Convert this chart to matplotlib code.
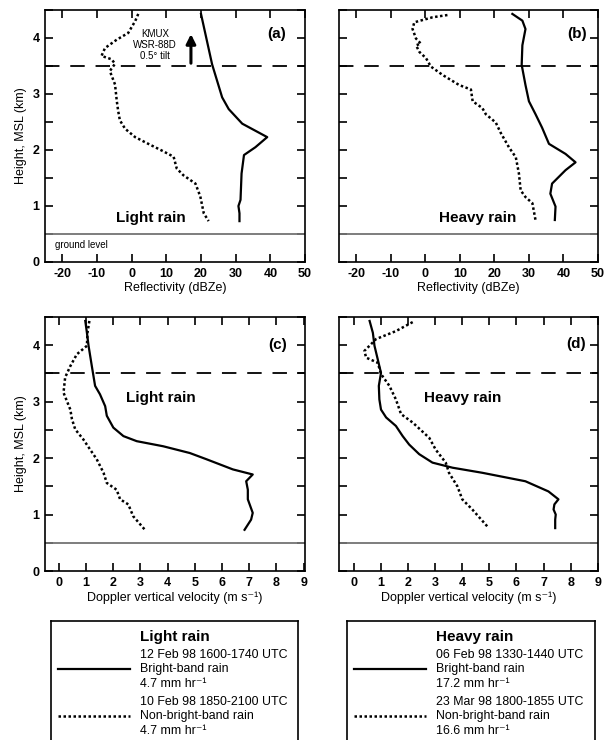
import matplotlib
matplotlib.use('Agg')
import matplotlib.pyplot as plt
from matplotlib.ticker import MultipleLocator, FixedLocator

plt.rcParams['font.family'] = ['Liberation Sans', 'DejaVu Sans']
plt.rcParams['axes.unicode_minus'] = False

# (a) reflectivity, light rain
h_a_bb = [4.43, 3.53, 2.94, 2.73, 2.47, 2.23, 2.05, 1.91, 1.58, 1.11, 1.00, 0.87, 0.73]
z_a_bb = [20.0, 23.2, 26.1, 28.0, 31.9, 39.1, 35.7, 32.4, 31.7, 31.4, 30.8, 31.1, 31.1]
h_a_nbb = [4.43, 4.30, 4.09, 3.97, 3.82, 3.68, 3.62, 3.54, 3.41, 3.17, 2.88, 2.70, 2.53,
           2.38, 2.23, 2.11, 1.99, 1.88, 1.67, 1.55, 1.40, 1.17, 0.87, 0.73]
z_a_nbb = [1.9, 1.0, -1.0, -4.3, -7.7, -8.7, -5.8, -4.8, -6.3, -4.8, -4.3, -3.9, -3.4,
           -1.9, 1.0, 4.8, 8.7, 12.1, 13.0, 14.9, 18.4, 19.8, 20.8, 22.2]

# (b) reflectivity, heavy rain
h_b_bb = [4.43, 4.31, 4.16, 3.87, 3.52, 3.16, 2.87, 2.64, 2.40, 2.11, 1.93, 1.78, 1.64,
          1.40, 1.22, 0.99, 0.75]
z_b_bb = [25.2, 28.1, 29.0, 28.1, 27.9, 29.0, 30.0, 31.9, 33.8, 35.8, 40.6, 43.5, 40.6,
          36.7, 36.2, 37.7, 37.5]
h_b_nbb = [4.41, 4.37, 4.28, 4.16, 3.99, 3.90, 3.87, 3.75, 3.64, 3.49, 3.34, 3.16, 3.08,
           2.87, 2.75, 2.64, 2.49, 2.31, 2.05, 1.87, 1.58, 1.28, 1.16, 1.05, 0.75]
z_b_nbb = [6.4, 2.1, -3.2, -3.7, -2.7, -1.3, -2.7, -1.7, 0.2, 1.6, 5.0, 9.8, 13.2,
           13.7, 16.5, 17.5, 20.4, 21.8, 24.2, 26.2, 27.1, 27.6, 29.0, 31.0, 31.9]

# (c) Doppler velocity, light rain
h_c_bb = [4.43, 4.22, 3.99, 3.63, 3.28, 3.13, 2.92, 2.75, 2.54, 2.39, 2.30, 2.21, 2.09,
          1.98, 1.80, 1.71, 1.59, 1.44, 1.27, 1.03, 0.91, 0.73]
w_c_bb = [0.98, 1.04, 1.10, 1.22, 1.34, 1.52, 1.71, 1.77, 2.01, 2.38, 2.87, 3.84, 4.82,
          5.43, 6.40, 7.13, 6.89, 6.95, 6.95, 7.13, 7.07, 6.83]
h_c_nbb = [4.43, 4.22, 3.99, 3.84, 3.63, 3.43, 3.16, 2.86, 2.69, 2.51, 2.33, 2.15, 1.98,
           1.74, 1.56, 1.44, 1.27, 1.18, 0.97, 0.73]
w_c_nbb = [1.13, 1.06, 1.04, 0.67, 0.43, 0.24, 0.18, 0.43, 0.49, 0.61, 0.91, 1.16, 1.40,
           1.65, 1.77, 2.13, 2.26, 2.56, 2.74, 3.17]

# (d) Doppler velocity, heavy rain
h_d_bb = [4.43, 4.22, 3.99, 3.75, 3.51, 3.28, 3.04, 2.86, 2.72, 2.57, 2.39, 2.24, 2.07,
          1.92, 1.83, 1.74, 1.59, 1.41, 1.27, 1.18, 1.09, 1.00, 0.91, 0.76]
w_d_bb = [0.58, 0.70, 0.76, 0.88, 1.00, 0.92, 0.94, 1.00, 1.19, 1.55, 1.80, 2.04, 2.41,
          2.90, 3.64, 4.74, 6.33, 7.18, 7.55, 7.40, 7.37, 7.45, 7.43, 7.43]
h_d_nbb = [4.41, 4.25, 4.11, 3.90, 3.78, 3.69, 3.49, 3.28, 3.04, 2.78, 2.63, 2.36, 2.15,
           1.92, 1.74, 1.50, 1.27, 1.09, 0.76]
w_d_nbb = [2.17, 1.55, 0.82, 0.39, 0.45, 0.88, 1.00, 1.31, 1.55, 1.74, 2.17, 2.78, 3.02,
           3.39, 3.51, 3.82, 4.00, 4.37, 4.98]

refl_ticks = [-20, -10, 0, 10, 20, 30, 40, 50]
vel_ticks = [0, 1, 2, 3, 4, 5, 6, 7, 8, 9]

legend_light = [['12 Feb 98 1600-1740 UTC', 'Bright-band rain', '4.7 mm hr⁻¹'],
                ['10 Feb 98 1850-2100 UTC', 'Non-bright-band rain', '4.7 mm hr⁻¹']]
legend_heavy = [['06 Feb 98 1330-1440 UTC', 'Bright-band rain', '17.2 mm hr⁻¹'],
                ['23 Mar 98 1800-1855 UTC', 'Non-bright-band rain', '16.6 mm hr⁻¹']]

solid_kw = dict(color='k', lw=1.6, solid_joinstyle='round')
dot_kw = dict(color='k', lw=1.8, linestyle=(0, (1, 1)))

fig = plt.figure(figsize=(6.04, 7.4), dpi=100)

W, H = 604.0, 740.0


def make_ax(x0, x1, y0, y1):
    return fig.add_axes([x0 / W, 1 - y1 / H, (x1 - x0) / W, (y1 - y0) / H])


ax_a = make_ax(45, 305, 10, 262)
ax_b = make_ax(339, 598, 10, 262)
ax_c = make_ax(45, 305, 317, 571)
ax_d = make_ax(339, 598, 317, 571)


def style_ax(ax, xlim, xticks, xlabel, ylabels):
    ax.set_xlim(*xlim)
    ax.set_ylim(0, 4.5)
    ax.xaxis.set_major_locator(FixedLocator(xticks))
    ax.yaxis.set_major_locator(MultipleLocator(1))
    ax.yaxis.set_minor_locator(MultipleLocator(0.5))
    ax.tick_params(which='both', direction='in', top=True, right=True,
                   length=6, width=1.2, labelsize=9, pad=4)
    for lab in ax.get_xticklabels() + ax.get_yticklabels():
        lab.set_fontweight('bold')
    ax.set_xlabel(xlabel, fontsize=9, labelpad=2)
    if ylabels:
        ax.set_ylabel('Height, MSL (km)', fontsize=9, labelpad=4)
    else:
        ax.set_yticklabels([])
    for s in ax.spines.values():
        s.set_linewidth(1.2)
    ax.axhline(0.5, color='0.45', lw=1.3)
    ax.axhline(3.5, color='k', lw=1.3, linestyle=(0, (8, 6)))


style_ax(ax_a, (-25, 50), refl_ticks, 'Reflectivity (dBZe)', True)
style_ax(ax_b, (-25, 50), refl_ticks, 'Reflectivity (dBZe)', False)
style_ax(ax_c, (-0.5, 9.05), vel_ticks, 'Doppler vertical velocity (m s⁻¹)', True)
style_ax(ax_d, (-0.55, 9.01), vel_ticks, 'Doppler vertical velocity (m s⁻¹)', False)

ax_a.plot(z_a_bb, h_a_bb, **solid_kw)
ax_a.plot(z_a_nbb, h_a_nbb, **dot_kw)
ax_b.plot(z_b_bb, h_b_bb, **solid_kw)
ax_b.plot(z_b_nbb, h_b_nbb, **dot_kw)
ax_c.plot(w_c_bb, h_c_bb, **solid_kw)
ax_c.plot(w_c_nbb, h_c_nbb, **dot_kw)
ax_d.plot(w_d_bb, h_d_bb, **solid_kw)
ax_d.plot(w_d_nbb, h_d_nbb, **dot_kw)

# annotations
ax_a.text(41.9, 4.07, '(a)', fontsize=11, fontweight='bold', ha='center', va='center')
ax_b.text(43.8, 4.07, '(b)', fontsize=11, fontweight='bold', ha='center', va='center')
ax_c.text(8.03, 4.01, '(c)', fontsize=11, fontweight='bold', ha='center', va='center')
ax_d.text(8.2, 4.03, '(d)', fontsize=11, fontweight='bold', ha='center', va='center')

ax_a.text(5.5, 0.79, 'Light rain', fontsize=11, fontweight='bold', ha='center', va='center')
ax_b.text(15.2, 0.79, 'Heavy rain', fontsize=11, fontweight='bold', ha='center', va='center')
ax_c.text(3.76, 3.07, 'Light rain', fontsize=11, fontweight='bold', ha='center', va='center')
ax_d.text(4.0, 3.07, 'Heavy rain', fontsize=11, fontweight='bold', ha='center', va='center')

ax_a.text(-22.1, 0.31, 'ground level', fontsize=7, ha='left', va='center')
ax_a.text(6.7, 3.87, 'KMUX\nWSR-88D\n0.5° tilt', fontsize=7, ha='center', va='center',
          linespacing=1.15)
ax_a.annotate('', xy=(17.1, 4.07), xytext=(17.1, 3.55),
              arrowprops=dict(arrowstyle='-|>', lw=2.2, color='k', mutation_scale=14,
                              shrinkA=0, shrinkB=0))


# legend boxes
def legend_box(x0, x1, title, entries):
    lax = make_ax(x0, x1, 621, 760)
    lax.set_xlim(x0, x1)
    lax.set_ylim(760, 621)
    lax.set_xticks([])
    lax.set_yticks([])
    for s in lax.spines.values():
        s.set_linewidth(1.2)
    tx = x0 + 89
    lax.text(tx, 637, title, fontsize=11, fontweight='bold', ha='left', va='center')
    lax.plot([x0 + 7, x0 + 79], [669, 669], **solid_kw)
    lax.plot([x0 + 7, x0 + 79], [716, 716], **dot_kw)
    for lines, y0 in zip(entries, [654, 701]):
        for k, line in enumerate(lines):
            lax.text(tx, y0 + 14.5 * k + 4, line, fontsize=8.9, ha='left', va='baseline')


legend_box(51, 298, 'Light rain', legend_light)
legend_box(347, 595, 'Heavy rain', legend_heavy)

fig.savefig('out.png', dpi=100)
